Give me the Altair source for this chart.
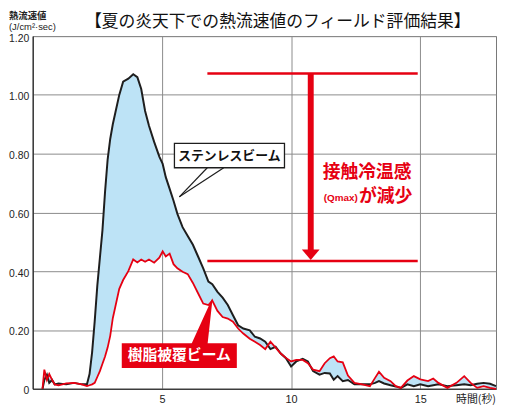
import altair as alt
import pandas as pd

# ---- data ----
time_s = [0.38, 0.45, 0.55, 0.64, 0.75, 0.85, 1.0, 1.3, 1.6, 1.9,
          2.1, 2.2, 2.3, 2.4, 2.5, 2.6, 2.7, 2.8, 2.9, 3.0,
          3.1, 3.2, 3.35, 3.5, 3.7, 3.89, 4.05, 4.2, 4.35, 4.5,
          4.7, 4.9, 5.03, 5.15, 5.3, 5.45, 5.6, 5.8, 6.0, 6.2,
          6.4, 6.6, 6.8, 6.95, 7.15, 7.35, 7.55, 7.75, 7.95, 8.15,
          8.4, 8.6, 8.8, 9.0, 9.2, 9.4, 9.6, 9.8, 10.0, 10.2,
          10.45, 10.65, 10.85, 11.1, 11.3, 11.5, 11.65, 11.8, 12.0, 12.2,
          12.45, 12.75, 13.05, 13.25, 13.4, 13.6, 13.85, 14.05, 14.25, 14.5,
          14.75, 15.0, 15.3, 15.5, 15.7, 16.05, 16.4, 16.7, 16.95, 17.2,
          17.45, 17.7, 17.93]

stainless = [0.0, 0.03, 0.048, 0.02, 0.03, 0.015, 0.018, 0.015, 0.02, 0.015,
             0.015, 0.05, 0.125, 0.23, 0.35, 0.445, 0.54, 0.67, 0.78, 0.85,
             0.9, 0.94, 1.0, 1.045, 1.055, 1.07, 1.06, 1.02, 0.945, 0.895,
             0.84, 0.79, 0.765, 0.72, 0.68, 0.64, 0.595, 0.55, 0.52, 0.49,
             0.45, 0.41, 0.365, 0.356, 0.33, 0.31, 0.285, 0.25, 0.216, 0.205,
             0.199, 0.177, 0.171, 0.16, 0.135, 0.143, 0.12, 0.104, 0.076, 0.093,
             0.102, 0.093, 0.06, 0.048, 0.054, 0.052, 0.031, 0.043, 0.026, 0.03,
             0.015, 0.015, 0.015, 0.02, 0.026, 0.018, 0.012, 0.008, 0.003, 0.015,
             0.009, 0.015, 0.009, 0.012, 0.015, 0.009, 0.012, 0.015, 0.012, 0.017,
             0.02, 0.017, 0.009]

resin = [0.0, 0.065, 0.03, 0.05, 0.03, 0.015, 0.012, 0.018, 0.02, 0.015,
         0.009, 0.012, 0.015, 0.02, 0.04, 0.06, 0.085, 0.11, 0.14, 0.18,
         0.24, 0.28, 0.34, 0.37, 0.40, 0.44, 0.43, 0.44, 0.432, 0.44,
         0.429, 0.446, 0.468, 0.45, 0.46, 0.424, 0.41, 0.398, 0.39, 0.36,
         0.325, 0.29, 0.285, 0.3, 0.265, 0.244, 0.239, 0.228, 0.205, 0.188,
         0.17, 0.16, 0.149, 0.135, 0.16, 0.14, 0.12, 0.105, 0.093, 0.098,
         0.098, 0.087, 0.065, 0.06, 0.087, 0.104, 0.11, 0.093, 0.09, 0.045,
         0.02, 0.015, 0.009, 0.037, 0.058, 0.037, 0.026, 0.009, 0.003, 0.028,
         0.043, 0.032, 0.026, 0.035, 0.02, 0.003, 0.02, 0.043, 0.02, 0.003,
         0.009, 0.003, 0.0]

x_ticks = [5, 10, 15]
y_ticks = [0, 0.2, 0.4, 0.6, 0.8, 1.0, 1.2]

title_text = "【夏の炎天下での熱流速値のフィールド評価結果】"
y_unit_1 = "熱流速値"
y_unit_2 = "(J/cm²·sec)"
x_unit = "時間(秒)"
stainless_label = "ステンレスビーム"
resin_label = "樹脂被覆ビーム"
qmax_line1 = "接触冷温感"
qmax_small = "(Qmax)"
qmax_line2 = "が減少"

qmax_levels = [1.073, 0.435]

assert len(time_s) == len(stainless) == len(resin)

RED = "#e60012"
BLACK = "#1e1e1e"
FILL = "#bde3f6"
JP = "Noto Sans CJK JP"

df = pd.DataFrame({"t": time_s, "s": stainless, "r": resin})

xs = alt.Scale(domain=[0, 17.93], nice=False, zero=False)
ys = alt.Scale(domain=[0, 1.2], nice=False)

x_axis = alt.Axis(values=x_ticks, grid=True, ticks=False, labelFontSize=11,
                  labelFont="Liberation Sans", labelColor="#222", labelPadding=5,
                  domainColor="#222", domainWidth=1.2, gridColor="#8a8a8a",
                  labelFlush=False)
y_axis = alt.Axis(values=y_ticks, grid=True, ticks=False, labelFontSize=10.5,
                  labelFont="Liberation Sans", labelColor="#222", labelPadding=4,
                  labelOffset=2, domainColor="#222", domainWidth=1.2,
                  gridColor="#8a8a8a",
                  labelExpr="datum.value == 0 ? '0' : format(datum.value, '.2f')")

X = lambda f: alt.X(f, type="quantitative", scale=xs, title=None)
Y = lambda f: alt.Y(f, type="quantitative", scale=ys, title=None)

base = alt.Chart(df)
area = base.mark_area(color=FILL, opacity=1).encode(
    x=alt.X("t:Q", scale=xs, axis=x_axis, title=None),
    y=alt.Y("s:Q", scale=ys, axis=y_axis, title=None),
    y2="r:Q",
)
black_line = base.mark_line(color=BLACK, strokeWidth=2).encode(x=X("t"), y=Y("s"))
red_line = base.mark_line(color=RED, strokeWidth=1.8).encode(x=X("t"), y=Y("r"))

# Qmax reduction annotation
lev = pd.DataFrame({"y": qmax_levels, "x1": [6.76, 6.76], "x2": [14.9, 14.9]})
level_rules = alt.Chart(lev).mark_rule(color=RED, strokeWidth=2.5).encode(
    x=X("x1"), x2="x2", y=Y("y"))
shaft = alt.Chart(pd.DataFrame({"x": [10.76], "y1": [1.073], "y2": [0.47]})).mark_rule(
    color=RED, strokeWidth=6).encode(x=X("x"), y=Y("y1"), y2="y2")
head = alt.Chart(pd.DataFrame({"x": [10.76], "y": [0.456]})).mark_point(
    shape="M-1,-0.6L1,-0.6L0,0.6Z", filled=True, size=324, color=RED, opacity=1,
    strokeWidth=0).encode(x=X("x"), y=Y("y"))
q1 = alt.Chart(pd.DataFrame({"x": [12.94], "y": [0.733], "t": [qmax_line1]})).mark_text(
    font=JP, fontSize=18, fontWeight="bold", color=RED, align="center",
    baseline="middle").encode(x=X("x"), y=Y("y"), text="t:N")
q2a = alt.Chart(pd.DataFrame({"x": [12.58], "y": [0.650], "t": [qmax_small]})).mark_text(
    font="Liberation Sans", fontSize=10, fontWeight="bold", color=RED, align="right",
    baseline="middle").encode(x=X("x"), y=Y("y"), text="t:N")
q2b = alt.Chart(pd.DataFrame({"x": [12.63], "y": [0.653], "t": [qmax_line2]})).mark_text(
    font=JP, fontSize=18, fontWeight="bold", color=RED, align="left",
    baseline="middle").encode(x=X("x"), y=Y("y"), text="t:N")

# stainless callout
ptr = pd.DataFrame({"x1": [6.756, 7.393], "y1": [0.752, 0.752],
                    "x2": [5.676, 5.676], "y2": [0.653, 0.653]})
s_ptr = alt.Chart(ptr).mark_rule(color=BLACK, strokeWidth=1.2).encode(
    x=X("x1"), y=Y("y1"), x2="x2", y2="y2")
s_box = alt.Chart(pd.DataFrame({"x1": [5.485], "x2": [9.744], "y1": [0.835], "y2": [0.752]})).mark_rect(
    fill="white", stroke=BLACK, strokeWidth=1.3).encode(x=X("x1"), x2="x2", y=Y("y1"), y2="y2")
s_txt = alt.Chart(pd.DataFrame({"x": [7.61], "y": [0.793], "t": [stainless_label]})).mark_text(
    font=JP, fontSize=13, fontWeight="bold", color="#111", align="center",
    baseline="middle").encode(x=X("x"), y=Y("y"), text="t:N")

# resin callout
r_ptr = alt.Chart(pd.DataFrame({"x": [6.43, 6.95], "y": [0.14, 0.306], "w": [17, 0.5]})).mark_trail(
    color=RED).encode(x=X("x"), y=Y("y"), size=alt.Size("w:Q", scale=None, legend=None))
r_box = alt.Chart(pd.DataFrame({"x1": [3.447], "x2": [7.9], "y1": [0.155], "y2": [0.071]})).mark_rect(
    fill=RED).encode(x=X("x1"), x2="x2", y=Y("y1"), y2="y2")
r_txt = alt.Chart(pd.DataFrame({"x": [5.67], "y": [0.113], "t": [resin_label]})).mark_text(
    font=JP, fontSize=15, fontWeight="bold", color="white", align="center",
    baseline="middle").encode(x=X("x"), y=Y("y"), text="t:N")

# page texts (pixel positions relative to plot origin)
def ptext(txt, px, py, **kw):
    return alt.Chart(pd.DataFrame({"t": [txt]})).mark_text(**kw).encode(
        x=alt.value(px), y=alt.value(py), text="t:N")

t_title = ptext(title_text, 248, -14, font=JP, fontSize=17, color="#111",
                align="center", baseline="middle")
t_u1 = ptext(y_unit_1, -24, -20.5, font=JP, fontSize=9.5, fontWeight="bold",
             color="#222", align="left", baseline="middle")
t_u2 = ptext(y_unit_2, -24, -9.5, font="Liberation Sans", fontSize=9.5,
             color="#222", align="left", baseline="middle")
t_x = ptext(x_unit, 469, 368, font=JP, fontSize=11, color="#222",
            align="right", baseline="middle")

chart = alt.layer(
    area, black_line, red_line,
    level_rules, shaft, head, q1, q2a, q2b,
    s_ptr, s_box, s_txt,
    r_ptr, r_box, r_txt,
    t_title, t_u1, t_u2, t_x,
).properties(
    width=469, height=357,
    padding={"left": 25, "top": 26, "right": 1, "bottom": 15},
    autosize=alt.AutoSizeParams(type="none"),
).configure_view(stroke="#777", strokeWidth=1)

chart.save("out.html", embed_options={"renderer": "svg", "actions": False})
